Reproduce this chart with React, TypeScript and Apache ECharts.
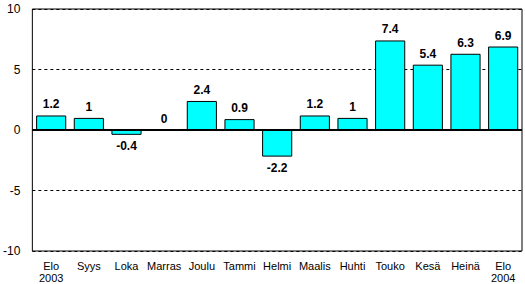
import React, { useEffect, useRef } from "react";
import * as echarts from "echarts";

const categories = ["Elo\n2003", "Syys", "Loka", "Marras", "Joulu", "Tammi", "Helmi", "Maalis", "Huhti", "Touko", "Kesä", "Heinä", "Elo\n2004"];
const values = [1.2, 1, -0.4, 0, 2.4, 0.9, -2.2, 1.2, 1, 7.4, 5.4, 6.3, 6.9];
const yTicks = { min: -10, max: 10, interval: 5 };

export default function App() {
  const ref = useRef<HTMLDivElement>(null);
  useEffect(() => {
    if (!ref.current) return;
    const chart = echarts.init(ref.current, undefined, { renderer: "svg" });
    chart.setOption({
      animation: false,
      textStyle: { fontFamily: "Liberation Sans, Arial, sans-serif" },
      grid: { left: 32, right: 3, top: 9, bottom: 32, show: true, borderColor: "#000", borderWidth: 1, backgroundColor: "#fff" },
      xAxis: {
        type: "category",
        data: categories,
        axisLine: { onZero: false, show: false },
        axisTick: { show: false },
        axisLabel: { color: "#000", fontSize: 11, margin: 9, lineHeight: 12, interval: 0 },
      },
      yAxis: {
        type: "value",
        min: yTicks.min,
        max: yTicks.max,
        interval: yTicks.interval,
        axisLine: { show: false },
        axisTick: { show: false },
        axisLabel: { color: "#000", fontSize: 12, margin: 12 },
        splitLine: { show: true, lineStyle: { color: "#000", type: [3, 3], width: 1 } },
      },
      series: [
        {
          type: "bar",
          barWidth: "80%",
          data: values.map((v) => ({
            value: v,
            label: { position: v < 0 ? "bottom" : "top" },
          })),
          itemStyle: { color: "#00ffff", borderColor: "#000", borderWidth: 1 },
          label: { show: true, color: "#000", fontWeight: "bold", fontSize: 12, distance: 5 },
          markLine: {
            silent: true,
            symbol: "none",
            label: { show: false },
            lineStyle: { color: "#000", type: "solid", width: 2 },
            data: [{ yAxis: 0 }],
          },
        },
      ],
    });
    return () => chart.dispose();
  }, []);
  return <div ref={ref} style={{ width: 525, height: 284, position: "absolute", left: 0, top: 0 }} />;
}
